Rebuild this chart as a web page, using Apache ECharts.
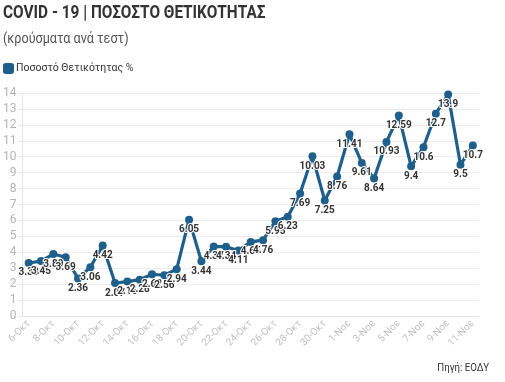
<!DOCTYPE html>
<html><head><meta charset="utf-8">
<script src="https://cdn.jsdelivr.net/npm/echarts@6/dist/echarts.min.js"></script>
<style>html,body{margin:0;padding:0;background:#fff}#c{width:505px;height:382px}</style>
</head><body><div id="c"></div>
<script>
const categories = ["6-Οκτ","7-Οκτ","8-Οκτ","9-Οκτ","10-Οκτ","11-Οκτ","12-Οκτ","13-Οκτ","14-Οκτ","15-Οκτ","16-Οκτ","17-Οκτ","18-Οκτ","19-Οκτ","20-Οκτ","21-Οκτ","22-Οκτ","23-Οκτ","24-Οκτ","25-Οκτ","26-Οκτ","27-Οκτ","28-Οκτ","29-Οκτ","30-Οκτ","31-Οκτ","1-Νοε","2-Νοε","3-Νοε","4-Νοε","5-Νοε","6-Νοε","7-Νοε","8-Νοε","9-Νοε","10-Νοε","11-Νοε"];
const positivity = [3.33,3.45,3.89,3.69,2.36,3.06,4.42,2.07,2.16,2.28,2.62,2.56,2.94,6.05,3.44,4.37,4.34,4.11,4.65,4.76,5.95,6.23,7.69,10.03,7.25,8.76,11.41,9.61,8.64,10.93,12.59,9.4,10.6,12.7,13.9,9.5,10.7];
const yTicks = [0,1,2,3,4,5,6,7,8,9,10,11,12,13,14];
const seriesName = "Ποσοστό Θετικότητας %";
const titleText = "COVID - 19 | ΠΟΣΟΣΤΟ ΘΕΤΙΚΟΤΗΤΑΣ";
const subtitleText = "(κρούσματα ανά τεστ)";
const sourceText = "Πηγή: ΕΟΔΥ";

const chart = echarts.init(document.getElementById('c'), null, {renderer:'canvas'});
chart.setOption({
  animation:false,
  graphic:[
    {type:'text', left:3, top:4, scaleX:0.81, style:{text:titleText, font:"bold 19px Roboto, sans-serif", fill:'#333'}},
    {type:'text', left:3, top:32, scaleX:0.9, style:{text:subtitleText, font:"14px Roboto, sans-serif", fill:'#555'}},
    {type:'text', right:16, top:363, scaleX:0.88, style:{text:sourceText, font:"11px Roboto, sans-serif", fill:'#333'}}
  ],
  legend:{left:3, top:63, padding:0, icon:'roundRect', itemWidth:11, itemHeight:11, itemGap:4,
    textStyle:{fontFamily:"Roboto,sans-serif", fontSize:10.5, color:'#333', padding:[0,0,0,-3]},
    data:[seriesName]},
  grid:{left:22, right:26, top:93, bottom:66, containLabel:false},
  xAxis:{type:'category', data:categories, boundaryGap:true,
    axisLine:{lineStyle:{color:'#e6e6e6'}},
    axisTick:{interval:0, alignWithLabel:true, length:5, lineStyle:{color:'#e0e0e0'}},
    axisLabel:{interval:1, rotate:45, fontSize:10, color:'#c0c0c0', fontFamily:"Roboto,sans-serif", margin:6}},
  yAxis:{type:'value', min:yTicks[0], max:yTicks[yTicks.length-1], interval:1,
    axisLine:{show:true, lineStyle:{color:'#e6e6e6'}},
    axisTick:{show:true, length:4, lineStyle:{color:'#e6e6e6'}},
    splitLine:{lineStyle:{color:'#ebebeb'}},
    axisLabel:{fontSize:12, color:'#b5b5b5', fontFamily:"Roboto,sans-serif", margin:6}},
  series:[{name:seriesName, type:'line', data:positivity,
    color:'#1f5f8c', showAllSymbol:true,
    lineStyle:{width:3.2, color:'#1f5f8c'},
    symbol:'circle', symbolSize:8,
    itemStyle:{color:'#1f5f8c'},
    labelLayout:{hideOverlap:false},
    label:{show:true, position:'bottom', distance:1, fontSize:10, fontWeight:'bold', color:'#333',
      fontFamily:"Roboto,sans-serif", textBorderColor:'#fff', textBorderWidth:2,
      formatter:p=>String(p.value)}
  }]
});
</script></body></html>
